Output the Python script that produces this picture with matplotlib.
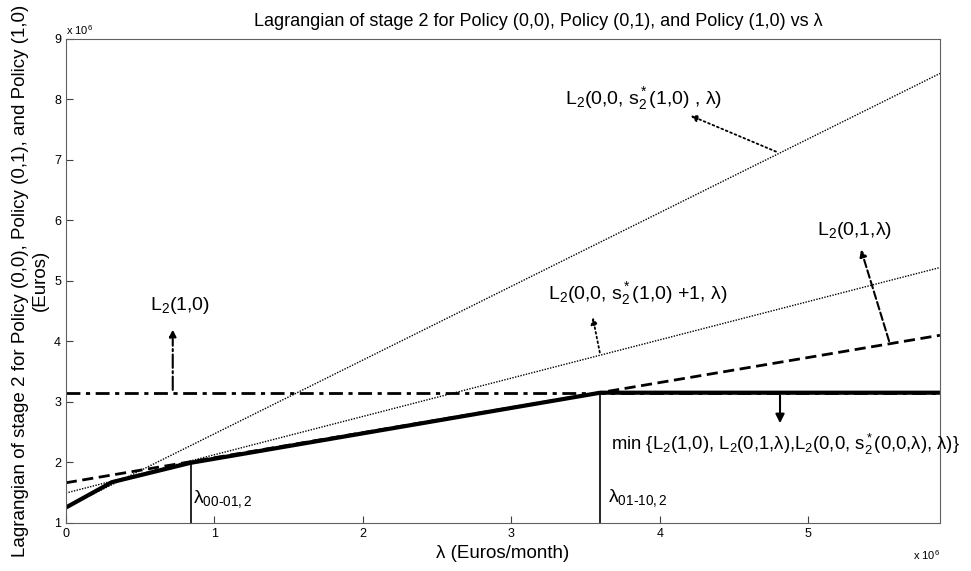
import numpy as np
import matplotlib as mpl
import matplotlib.pyplot as plt

mpl.rcParams["font.family"] = ["Liberation Sans", "DejaVu Sans"]
mpl.rcParams["mathtext.fontset"] = "custom"
mpl.rcParams["mathtext.rm"] = "Liberation Sans"
mpl.rcParams["mathtext.it"] = "Liberation Sans"

# lambda values (Euros/month), end points of the lines
lam_ends = np.array([0.0, 5.887e6])
L_steep = np.array([1.25e6, 8.43e6])      # L2(0,0,s*(1,0),lambda)
L_plus1 = np.array([1.49e6, 5.22e6])      # L2(0,0,s*(1,0)+1,lambda)
L_01 = np.array([1.66e6, 4.10e6])         # L2(0,1,lambda)
L_10 = np.array([3.15e6, 3.15e6])         # L2(1,0)

# lower envelope (min)
lam_min = np.array([0.0, 0.31e6, 0.84e6, 3.60e6, 5.887e6])
L_min = np.array([1.25e6, 1.67e6, 1.99e6, 3.15e6, 3.15e6])

lam_00_01 = 0.84e6
lam_01_10 = 3.60e6

fig = plt.figure(figsize=(9.71, 5.71), dpi=100)
ax = fig.add_axes([0.0678, 0.0846, 0.9002, 0.8471])

ax.plot(lam_ends, L_steep, color="k", lw=1.0, ls=(0, (1, 1)))
ax.plot(lam_ends, L_plus1, color="k", lw=1.0, ls=(0, (1, 1)))
ax.plot(lam_ends, L_01, color="k", lw=2.0, ls=(0, (4, 2)))
ax.plot(lam_ends, L_10, color="k", lw=2.0, ls=(0, (5, 2, 1.5, 2)))
ax.plot(lam_min, L_min, color="k", lw=3.0, solid_capstyle="butt")

ax.plot([lam_00_01, lam_00_01], [1e6, np.interp(lam_00_01, lam_min, L_min)], color="k", lw=1.2)
ax.plot([lam_01_10, lam_01_10], [1e6, np.interp(lam_01_10, lam_min, L_min)], color="k", lw=1.2)

ax.set_xlim(0, 5.887e6)
ax.set_ylim(1e6, 9e6)
ax.set_xticks(np.arange(0, 6) * 1e6)
ax.set_yticks(np.arange(1, 10) * 1e6)
ax.xaxis.set_major_formatter(mpl.ticker.FuncFormatter(lambda v, p: "%g" % (v / 1e6)))
ax.yaxis.set_major_formatter(mpl.ticker.FuncFormatter(lambda v, p: "%g" % (v / 1e6)))
ax.tick_params(direction="in", labelsize=9, length=5, colors="#404040", labelcolor="k")
for s in ax.spines.values():
    s.set_color("#606060")

ax.text(0.0, 1.005, r"x 10$^6$", transform=ax.transAxes, fontsize=8, va="bottom")
ax.text(1.0, -0.067, r"x 10$^6$", transform=ax.transAxes, fontsize=8, ha="right", va="center")

ax.set_title("Lagrangian of stage 2 for Policy (0,0), Policy (0,1), and Policy (1,0) vs λ",
             fontsize=13, pad=9, x=0.541)
ax.set_xlabel("λ (Euros/month)", fontsize=13.5, labelpad=4)
ax.set_ylabel("Lagrangian of stage 2 for Policy (0,0), Policy (0,1), and Policy (1,0)\n(Euros)",
              fontsize=13.5, labelpad=4, linespacing=1.15)

fs = 14
arrow_kw = dict(arrowstyle="-|>", color="k", mutation_scale=10)

ax.annotate("", xy=(4.19e6, 7.75e6), xytext=(4.80e6, 7.12e6),
            arrowprops=dict(ls=":", lw=1.3, **arrow_kw))
ax.text(3.36e6, 7.92e6, r"L$_2$(0,0, s$^*_2$(1,0) , λ)", fontsize=fs, va="baseline")

ax.annotate("", xy=(3.545e6, 4.44e6), xytext=(3.60e6, 3.77e6),
            arrowprops=dict(ls=":", lw=1.3, **arrow_kw))
ax.text(3.25e6, 4.69e6, r"L$_2$(0,0, s$^*_2$(1,0) +1, λ)", fontsize=fs, va="baseline")

ax.annotate("", xy=(5.35e6, 5.56e6), xytext=(5.55e6, 3.96e6),
            arrowprops=dict(ls="--", lw=1.5, **arrow_kw))
ax.text(5.06e6, 5.76e6, r"L$_2$(0,1,λ)", fontsize=fs, va="baseline")

ax.annotate("", xy=(0.72e6, 4.24e6), xytext=(0.72e6, 3.15e6),
            arrowprops=dict(ls="-.", lw=1.5, **arrow_kw))
ax.text(0.567e6, 4.52e6, r"L$_2$(1,0)", fontsize=fs, va="baseline")

ax.annotate("", xy=(4.81e6, 2.60e6), xytext=(4.81e6, 3.15e6),
            arrowprops=dict(arrowstyle="-|>", lw=1.5, color="k", mutation_scale=13))
ax.text(3.67e6, 2.20e6, r"min {L$_2$(1,0), L$_2$(0,1,λ),L$_2$(0,0, s$^*_2$(0,0,λ), λ)}",
        fontsize=13.3, va="baseline")

ax.text(0.857e6, 1.326e6, r"λ$_{\rm 00\text{-}01,2}$", fontsize=fs, va="baseline")
ax.text(3.65e6, 1.34e6, r"λ$_{\rm 01\text{-}10,2}$", fontsize=fs, va="baseline")

fig.savefig("out.png", dpi=100)
